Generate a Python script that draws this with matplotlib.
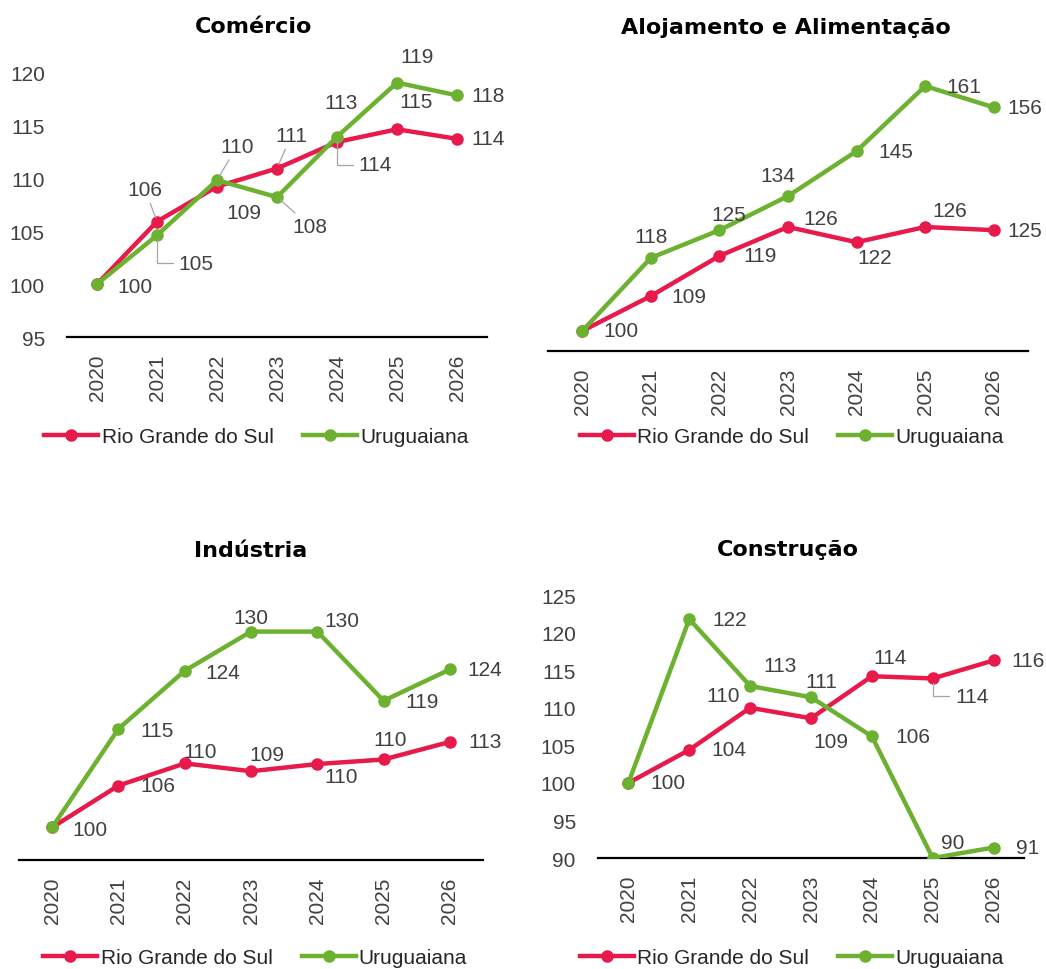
import numpy as np
import matplotlib
matplotlib.use("Agg")
import matplotlib.pyplot as plt

years = ['2020', '2021', '2022', '2023', '2024', '2025', '2026']
series_names = ['Rio Grande do Sul', 'Uruguaiana']

# Comércio
rs_comercio = [100, 105.9, 109.2, 110.9, 113.4, 114.6, 113.7]
uru_comercio = [100, 104.6, 109.8, 108.2, 113.9, 119.0, 117.8]
# Alojamento e Alimentação
rs_alojamento = [100, 108.7, 118.7, 125.9, 122.1, 125.9, 125.1]
uru_alojamento = [100, 118.2, 125.1, 133.6, 144.8, 161.0, 155.7]
# Indústria
rs_industria = [100, 106.4, 109.8, 108.6, 109.7, 110.4, 113.1]
uru_industria = [100, 115.1, 124.0, 130.0, 130.0, 119.4, 124.2]
# Construção
rs_construcao = [100, 104.4, 110.0, 108.6, 114.2, 113.9, 116.3]
uru_construcao = [100, 121.8, 112.9, 111.4, 106.2, 90.0, 91.4]

RED = '#E8194B'
GREEN = '#6CB12F'
LBL = '#404040'
LEAD = '#A6A6A6'

plt.rcParams['font.family'] = ['Liberation Sans', 'DejaVu Sans']

fig = plt.figure(figsize=(10.46, 9.70), dpi=100)
W, H = 1046.0, 970.0

# label offsets in pixels (dx, dy, leader); None = no label
panels = [
    dict(title='Comércio', rs=rs_comercio, uru=uru_comercio,
         pos=[0.0641, 0.6515, 0.4015, 0.2732], ylim=(95, 120), yticks=True,
         rs_off=[None, (-12, 32, 'line'), (27, -26, None), (14, 33, 'line'),
                 (4, 40, None), (19, 28, None), (31, 0, None)],
         uru_off=[(38, -2, None), (39, -28, 'elbow'), (20, 34, 'line'),
                  (33, -29, 'line'), (38, -28, 'elbow'), (20, 26, None),
                  (31, 0, None)],
         title_xy=(254, 27), leg=(0.245, 0.5485)),
    dict(title='Alojamento e Alimentação', rs=rs_alojamento, uru=uru_alojamento,
         pos=[0.5239, 0.6371, 0.4589, 0.2897], ylim=(95, 165), yticks=False,
         rs_off=[None, (38, 0, None), (41, 0, None), (33, 8, None),
                 (18, -15, None), (25, 16, None), (31, 0, None)],
         uru_off=[(39, 0, None), (0, 21, None), (9, 16, None), (-10, 21, None),
                  (39, 0, None), (39, 0, None), (31, 0, None)],
         title_xy=(786, 28), leg=(0.757, 0.5485)),
    dict(title='Indústria', rs=rs_industria, uru=uru_industria,
         pos=[0.0182, 0.1124, 0.4436, 0.2691], ylim=(95, 135), yticks=False,
         rs_off=[None, (39, 0, None), (15, 12, None), (16, 17, None),
                 (24, -12, None), (7, 20, None), (35, 0, None)],
         uru_off=[(38, -2, None), (39, -2, None), (38, -2, None), (0, 14, None),
                  (25, 11, None), (38, -1, None), (35, 0, None)],
         title_xy=(251, 551), leg=(0.244, 0.0115)),
    dict(title='Construção', rs=rs_construcao, uru=uru_construcao,
         pos=[0.5717, 0.1144, 0.4073, 0.2711], ylim=(90, 125), yticks=True,
         rs_off=[None, (40, 0, None), (-27, 12, None), (20, -23, None),
                 (18, 19, None), (39, -18, 'elbow'), (34, 0, None)],
         uru_off=[(40, 0, None), (40, 0, None), (30, 20, None), (10, 16, None),
                  (41, 0, None), (20, 16, None), (34, 0, None)],
         title_xy=(788, 550), leg=(0.757, 0.0115)),
]


def add_labels(ax, x, vals, offs):
    for xi, v, off in zip(x, vals, offs):
        if off is None:
            continue
        dx, dy, lead = off
        kw = {}
        if lead == 'line':
            kw['arrowprops'] = dict(arrowstyle='-', color=LEAD, lw=0.9,
                                    shrinkA=1, shrinkB=3)
        elif lead == 'elbow':
            kw['arrowprops'] = dict(arrowstyle='-', color=LEAD, lw=0.9,
                                    shrinkA=2, shrinkB=3,
                                    connectionstyle='angle,angleA=0,angleB=90,rad=0')
        ax.annotate(f'{v:.0f}', xy=(xi, v), xytext=(dx, dy),
                    textcoords='offset pixels', ha='center', va='center',
                    fontsize=15, color=LBL, zorder=5, **kw)


for p in panels:
    ax = fig.add_axes(p['pos'])
    x = np.arange(len(years))
    ax.plot(x, p['rs'], color=RED, lw=3.2, marker='o', ms=8,
            label=series_names[0], zorder=3)
    ax.plot(x, p['uru'], color=GREEN, lw=3.2, marker='o', ms=8,
            label=series_names[1], zorder=3)
    add_labels(ax, x, p['rs'], p['rs_off'])
    add_labels(ax, x, p['uru'], p['uru_off'])

    ax.set_xlim(-0.5, len(years) - 0.5)
    ax.set_ylim(*p['ylim'])
    ax.set_xticks(x)
    ax.set_xticklabels(years, rotation=90, fontsize=15, color=LBL)
    for s in ['top', 'right', 'left']:
        ax.spines[s].set_visible(False)
    ax.spines['bottom'].set_linewidth(1.6)
    ax.spines['bottom'].set_color('black')
    ax.tick_params(axis='both', length=0)
    ax.tick_params(axis='x', pad=12)
    if p['yticks']:
        lo, hi = p['ylim']
        ax.set_yticks(np.arange(lo, hi + 1, 5))
        ax.tick_params(axis='y', labelsize=15, labelcolor=LBL, pad=16)
    else:
        ax.set_yticks([])
    ax.patch.set_alpha(0)

    tx, ty = p['title_xy']
    fig.text(tx / W, 1 - ty / H, p['title'], ha='center', va='center',
             fontsize=16, fontweight='bold', family='DejaVu Sans',
             color='black')

    ax.legend(loc='center', bbox_to_anchor=p['leg'],
              bbox_transform=fig.transFigure, ncol=2, frameon=False,
              fontsize=15, handlelength=2.6, handletextpad=0.15,
              columnspacing=1.4, labelcolor='#262626')

fig.savefig('out.png', dpi=100)
